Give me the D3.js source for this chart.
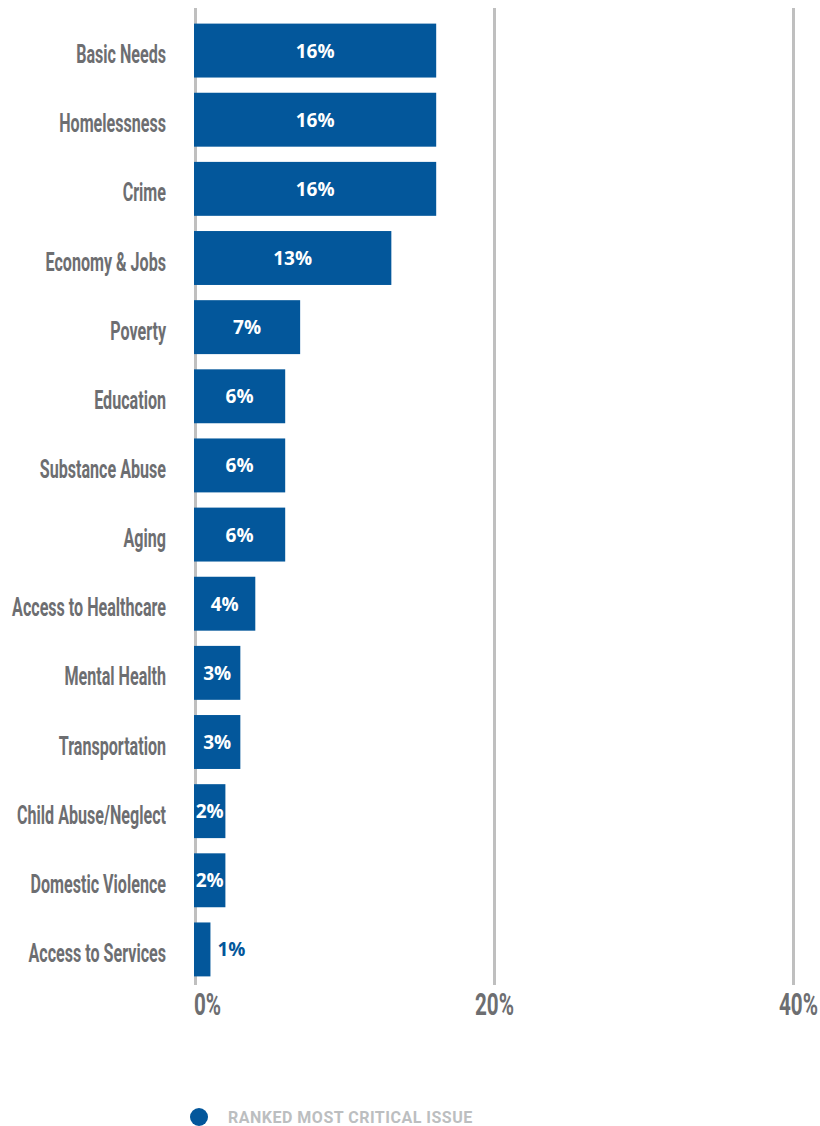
<!DOCTYPE html>
<html lang="en">
<head>
<meta charset="utf-8">
<title>Ranked most critical issue</title>
<script src="https://cdn.jsdelivr.net/npm/d3@7"></script>
<style>
  body { margin: 0; background: #fff; }
  .cat { font-family: Roboto, sans-serif; font-weight: 700; fill: #6d6e71; font-size: 25px; }
  .tick-lbl { font-family: Roboto, sans-serif; font-weight: 700; fill: #6d6e71; font-size: 32px; }
  .val { font-family: "Open Sans", sans-serif; font-weight: 700; font-size: 19px; }
  .legend { font-family: Roboto, sans-serif; font-weight: 700; font-size: 16px; fill: #bcbec0; letter-spacing: 0.5px; }
</style>
</head>
<body>
<svg id="chart" width="820" height="1126"></svg>
<script>
// data
var categories = ["Basic Needs", "Homelessness", "Crime", "Economy & Jobs", "Poverty", "Education",
  "Substance Abuse", "Aging", "Access to Healthcare", "Mental Health", "Transportation",
  "Child Abuse/Neglect", "Domestic Violence", "Access to Services"];
var values = [16.2, 16.2, 16.2, 13.2, 7.1, 6.1, 6.1, 6.1, 4.1, 3.1, 3.1, 2.1, 2.1, 1.1];
var valueLabels = ["16%", "16%", "16%", "13%", "7%", "6%", "6%", "6%", "4%", "3%", "3%", "2%", "2%", "1%"];
var ticks = [0, 20, 40];
var seriesName = "RANKED MOST CRITICAL ISSUE";

var blue = "#03579b";
var svg = d3.select("#chart");

// no condensed font installed, so narrow the labels by hand:
// measure one label and squeeze so it is as wide as in the original
function squeezeFor(cls, str, target) {
  var t = svg.append("text").attr("class", cls).text(str);
  var w = t.node().getComputedTextLength();
  t.remove();
  return target / w;
}
var catSqueeze = squeezeFor("cat", "Access to Healthcare", 154);
var tickSqueeze = squeezeFor("tick-lbl", "20%", 39);

var x = d3.scaleLinear().domain([0, 40]).range([194, 792]);
var y = d3.scaleBand().domain(categories).range([16, 984]).paddingInner(0.22).paddingOuter(0.11);

// gridlines
svg.append("g").selectAll("line").data(ticks).enter().append("line")
  .attr("x1", function(d) { return x(d) + 1.5; })
  .attr("x2", function(d) { return x(d) + 1.5; })
  .attr("y1", 8).attr("y2", 985)
  .attr("stroke", "#bfbfbf").attr("stroke-width", 3);

// tick labels
svg.append("g").selectAll("text").data(ticks).enter().append("text")
  .attr("class", "tick-lbl")
  .attr("transform", function(d) {
    var px = d == 40 ? 818 : (d == 0 ? x(d) : x(d) + 1.5);
    return "translate(" + px + ",1015) scale(" + tickSqueeze + ",1)";
  })
  .attr("text-anchor", function(d) { return d == 0 ? "start" : (d == 40 ? "end" : "middle"); })
  .text(function(d) { return d + "%"; });

// bars
svg.append("g").selectAll("rect").data(values).enter().append("rect")
  .attr("x", x(0))
  .attr("y", function(d, i) { return y(categories[i]); })
  .attr("width", function(d) { return x(d) - x(0); })
  .attr("height", y.bandwidth())
  .attr("fill", blue);

// category labels
svg.append("g").selectAll("text").data(categories).enter().append("text")
  .attr("class", "cat")
  .attr("transform", function(d) {
    return "translate(166," + (y(d) + y.bandwidth() / 2 + 12.5) + ") scale(" + catSqueeze + ",1)";
  })
  .attr("text-anchor", "end")
  .text(function(d) { return d; });

// value labels
svg.append("g").selectAll("text").data(values).enter().append("text")
  .attr("class", "val")
  .attr("x", function(d) { return d < 1.5 ? x(d) + 7 : (x(0) + x(d)) / 2; })
  .attr("y", function(d, i) { return y(categories[i]) + y.bandwidth() / 2 + 7; })
  .attr("text-anchor", function(d) { return d < 1.5 ? "start" : "middle"; })
  .attr("fill", function(d) { return d < 1.5 ? blue : "#fff"; })
  .text(function(d, i) { return valueLabels[i]; });

// legend
var lg = svg.append("g");
lg.append("circle").attr("cx", 199).attr("cy", 1117).attr("r", 9).attr("fill", blue);
lg.append("text").attr("class", "legend").attr("x", 228).attr("y", 1123).text(seriesName);
</script>
</body>
</html>
